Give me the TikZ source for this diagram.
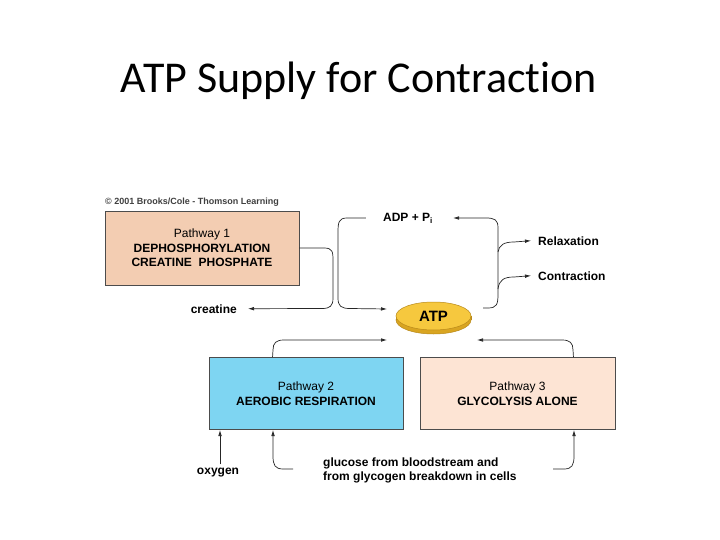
\documentclass[tikz,border=0pt]{standalone}
\usepackage{fontspec}
\setmainfont{Liberation Sans}
\newfontfamily\titlefont{Carlito}[Ligatures=NoCommon]
\usetikzlibrary{arrows.meta,shapes.geometric}
\definecolor{peachA}{HTML}{F3CDB2}
\definecolor{blueB}{HTML}{7ED5F2}
\definecolor{peachC}{HTML}{FDE4D4}
\definecolor{goldtop}{HTML}{F6C83E}
\definecolor{goldside}{HTML}{D9A521}
\definecolor{goldedge}{HTML}{B8891A}
\begin{document}
\begin{tikzpicture}[x=1pt,y=-1pt,
  lbl/.style={font=\fontsize{12}{14}\selectfont\bfseries, inner sep=0pt},
  pbox/.style={draw=black!70, line width=0.9pt, minimum width=194pt, minimum height=72pt, align=center, font=\fontsize{12}{14.5}\selectfont, inner sep=0pt},
  conn/.style={line width=0.7pt, black!85},
  arr/.style={conn, -{Latex[length=6pt,width=3.6pt]}}]
\useasboundingbox (0,0) rectangle (720,540);
\fill[white] (0,0) rectangle (720,540);
% title
\node[font=\titlefont\fontsize{44}{50}\selectfont, anchor=base, inner sep=0pt] (title) at (359,93) {ATP Supply for Contraction};
% copyright
\node[anchor=base west, font=\fontsize{9}{10}\selectfont\bfseries, text=black!75, inner sep=0pt] (copy) at (105,205) {\textcopyright{} 2001 Brooks/Cole - Thomson Learning};
% pathway boxes
\node[pbox, fill=peachA, minimum height=74pt] (p1) at (202,248) {Pathway 1\\\textbf{DEPHOSPHORYLATION}\\\textbf{CREATINE\ \ PHOSPHATE}};
\node[pbox, fill=blueB] (p2) at (306,393.5) {Pathway 2\\\textbf{AEROBIC RESPIRATION}};
\node[pbox, fill=peachC, minimum width=195pt] (p3) at (517.5,393.5) {Pathway 3\\\textbf{GLYCOLYSIS ALONE}};
% ATP coin
\fill[goldside, draw=goldedge, line width=0.5pt] (433.5,320) ellipse [x radius=37.5, y radius=14];
\fill[goldside] (396,316) rectangle (471,320);
\draw[goldedge, line width=0.5pt] (396,316) -- (396,320) (471,316) -- (471,320);
\node[ellipse, fill=goldtop, draw=goldedge, line width=0.5pt, minimum width=75pt, minimum height=28pt, inner sep=0pt, font=\fontsize{15}{17}\selectfont\bfseries] (atp) at (433.5,316) {ATP};
% labels
\node[lbl, anchor=base] (adp) at (408,222) {ADP + P\textsubscript{i}};
\node[lbl, anchor=base west] (relax) at (538,245) {Relaxation};
\node[lbl, anchor=base west] (contr) at (538,280) {Contraction};
\node[lbl, anchor=base east] (creat) at (237,313) {creatine};
\node[lbl, anchor=base] (oxy) at (218,474) {oxygen};
\node[lbl, anchor=base west, align=left] (gluc) at (323,480) {glucose from bloodstream and\\from glycogen breakdown in cells};
% connectors top
\coordinate (creatTip) at ([xshift=11pt]creat.east);
\coordinate (adpL) at ([xshift=-17pt]adp.west);
\coordinate (adpR) at ([xshift=20pt]adp.east);
\coordinate (atpInL) at (387,309);
\coordinate (atpOutR) at (483,308);
\draw[arr] (p1.east) -- (324,248) .. controls (333,248) and (333,252) .. (333,262) -- (333,298) .. controls (333,306) and (330,308.5) .. (322,308.5) -- (creat.east -| creatTip);
\draw[arr] (adpL |- 0,218) -- (347,218) .. controls (339,218) and (338,222) .. (338,232) -- (338,298) .. controls (338,306) and (341,308.5) .. (350,308.5) -- (atpInL);
\draw[arr] (atpOutR) -- (488,308) .. controls (497,308) and (498,304) .. (498,294) -- (498,228) .. controls (498,220) and (495,218) .. (486,218) -- (adpR |- 0,218);
\draw[arr] (498,252) .. controls (499,245) and (504,242) .. (514,242) -- ([xshift=-7pt]relax.west);
\draw[arr] (498,289) .. controls (499,280) and (504,277) .. (514,277) -- ([xshift=-7pt]contr.west);
% connectors to ATP from below
\coordinate (atpInBL) at (387,340);
\coordinate (atpInBR) at (477,340);
\draw[arr] ([xshift=64pt]p2.north west) -- (273,350) .. controls (273,343) and (276,340) .. (284,340) -- (atpInBL);
\draw[arr] ([xshift=-42pt]p3.north east) -- (573,350) .. controls (573,343) and (570,340) .. (562,340) -- (atpInBR);
% inputs from below
\draw[arr] ([yshift=3pt]oxy.north -| 220,0) -- (220,430);
\coordinate (glL) at (293,469);
\coordinate (glR) at (553,469);
\draw[arr] (glL) -- (283,469) .. controls (275,469) and (273,465) .. (273,456) -- (273,430);
\draw[arr] (glR) -- (564,469) .. controls (572,469) and (574,465) .. (574,456) -- (574,430);
\end{tikzpicture}
\end{document}
